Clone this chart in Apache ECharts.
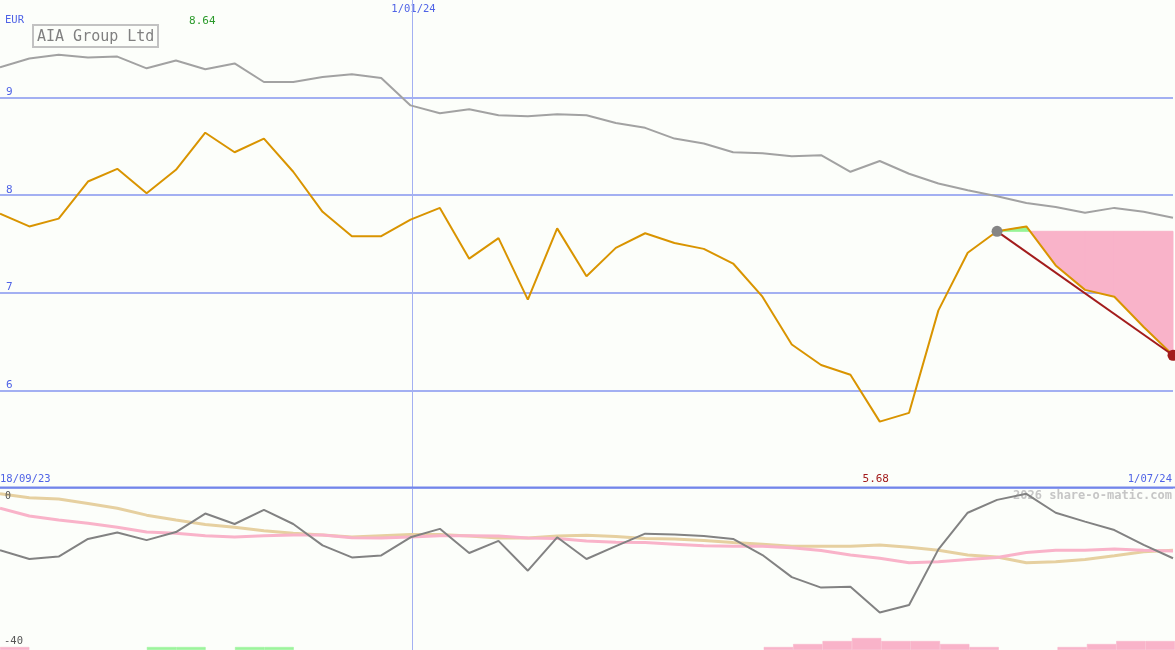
<!DOCTYPE html>
<html>
<head>
<meta charset="utf-8">
<script src="https://cdn.jsdelivr.net/npm/echarts@6/dist/echarts.min.js"></script>
<style>
  html, body { margin: 0; padding: 0; background: #fcfefa; }
  #chart { width: 1175px; height: 650px; }
</style>
</head>
<body>
<div id="chart"></div>
<script>
// weekly closes, 18/09/23 .. 24/06/24
const weeks = ['18/09/23','25/09/23','2/10/23','9/10/23','16/10/23','23/10/23','30/10/23','6/11/23',
  '13/11/23','20/11/23','27/11/23','4/12/23','11/12/23','18/12/23','25/12/23','1/01/24','8/01/24',
  '15/01/24','22/01/24','29/01/24','5/02/24','12/02/24','19/02/24','26/02/24','4/03/24','11/03/24',
  '18/03/24','25/03/24','1/04/24','8/04/24','15/04/24','22/04/24','29/04/24','6/05/24','13/05/24',
  '20/05/24','27/05/24','3/06/24','10/06/24','17/06/24','24/06/24'];

const price = [7.81,7.68,7.76,8.14,8.27,8.02,8.26,8.64,8.44,8.58,8.24,7.83,7.58,7.58,7.75,7.87,7.35,
  7.56,6.93,7.66,7.17,7.46,7.61,7.51,7.45,7.30,6.96,6.47,6.26,6.16,5.68,5.77,6.82,7.41,7.63,7.68,
  7.28,7.03,6.96,6.65,6.36];

const avgLine = [9.31,9.40,9.44,9.41,9.42,9.30,9.38,9.29,9.35,9.16,9.16,9.21,9.24,9.20,8.92,8.84,8.88,
  8.82,8.81,8.83,8.82,8.74,8.69,8.58,8.53,8.44,8.43,8.40,8.41,8.24,8.35,8.22,8.12,8.05,7.99,7.92,
  7.88,7.82,7.87,7.83,7.77];

const oscGrey = [-15.2,-17.4,-16.8,-12.4,-10.8,-12.7,-10.7,-6.1,-8.7,-5.2,-8.7,-14.0,-17.0,-16.5,-12.0,
  -9.9,-15.9,-12.9,-20.3,-12.0,-17.4,-14.2,-11.1,-11.3,-11.7,-12.4,-16.4,-21.9,-24.5,-24.3,-30.7,
  -28.8,-15.0,-5.9,-2.7,-1.2,-5.9,-8.1,-10.2,-13.9,-17.2];
const oscTan = [-1.2,-2.2,-2.5,-3.6,-4.8,-6.5,-7.7,-8.8,-9.5,-10.4,-11.0,-11.4,-11.9,-11.6,-11.3,-11.3,
  -11.7,-12.2,-12.2,-11.7,-11.5,-11.8,-12.3,-12.4,-12.8,-13.3,-13.7,-14.2,-14.2,-14.2,-13.9,-14.5,
  -15.2,-16.4,-16.9,-18.3,-18.1,-17.5,-16.6,-15.6,-15.2];
const oscPink = [-4.8,-6.7,-7.7,-8.5,-9.5,-10.7,-11.0,-11.6,-11.9,-11.6,-11.4,-11.4,-12.1,-12.2,-11.9,
  -11.6,-11.6,-11.7,-12.2,-12.3,-12.9,-13.2,-13.3,-13.7,-14.1,-14.2,-14.2,-14.6,-15.3,-16.4,-17.2,
  -18.3,-18.1,-17.5,-17.0,-15.8,-15.2,-15.2,-14.9,-15.2,-15.4];

// strength bars, one per week-to-week step
const barsPink  = [1,0,0,0,0,0,0,0,0,0,0,0,0,0,0,0,0,0,0,0,0,0,0,0,0,0,1,2,3,4,3,3,2,1,0,0,1,2,3,3];
const barsGreen = [0,0,0,0,0,1,1,0,1,1,0,0,0,0,0,0,0,0,0,0,0,0,0,0,0,0,0,0,0,0,0,0,0,0,0,0,0,0,0,0];

const refIdx = 34;      // grey marker: start of the projection
const endIdx = 40;      // red marker
const yearIdx = 14;     // year boundary line
const steps = weeks.slice(1);

const mono = '"DejaVu Sans Mono", "Liberation Mono", monospace';
const blue = '#4f63e6';
const fillPink = '#f9b3c9';
const fillGreen = '#96f496';
const barGreen = '#9cf49c';

var chart = echarts.init(document.getElementById('chart'));

// area between the price and the level at refIdx, green above, pink below
function renderFill(params, api) {
  const i = api.value(0);
  const L = price[refIdx];
  const a = price[i], b = price[i + 1];
  const pA = api.coord([i, a]), pB = api.coord([i + 1, b]);
  const lA = api.coord([i, L]), lB = api.coord([i + 1, L]);
  const children = [];
  const poly = (pts, up) => children.push({
    type: 'polygon', shape: { points: pts },
    style: { fill: up ? fillGreen : fillPink, stroke: up ? fillGreen : fillPink, lineWidth: 1 }
  });
  if ((a - L) * (b - L) < 0) {
    const t = (a - L) / (a - b);
    const xc = lA[0] + t * (lB[0] - lA[0]);
    poly([lA, pA, [xc, lA[1]]], a > L);
    poly([[xc, lA[1]], pB, lB], b > L);
  } else {
    poly([lA, pA, pB, lB], (a + b) / 2 >= L);
  }
  return { type: 'group', children: children };
}

const fillSegs = [];
for (let i = refIdx; i < endIdx; i++) fillSegs.push([i]);

// empty steps draw nothing
const noZero = (arr) => arr.map(v => (v ? v : null));

let option = {
  backgroundColor: '#fcfefa',
  animation: false,
  grid: [
    { left: 0, top: -1, width: 1173, height: 489 },
    { left: 0, top: 489, width: 1173, height: 161 },
    { left: 0, top: 638, width: 1175, height: 12 }
  ],
  xAxis: [
    { gridIndex: 0, type: 'category', data: weeks, boundaryGap: false,
      axisLine: { show: false }, axisTick: { show: false }, axisLabel: { show: false } },
    { gridIndex: 1, type: 'category', data: weeks, boundaryGap: false,
      axisLine: { show: false }, axisTick: { show: false }, axisLabel: { show: false } },
    { gridIndex: 2, type: 'category', data: steps, boundaryGap: true,
      axisLine: { show: false }, axisTick: { show: false }, axisLabel: { show: false } }
  ],
  yAxis: [
    { gridIndex: 0, type: 'value', min: 5, max: 10, interval: 1,
      axisLine: { show: false }, axisTick: { show: false },
      splitLine: { showMaxLine: false, lineStyle: { color: '#a3b0f2', width: 2 } },
      axisLabel: { inside: true, margin: 6, verticalAlign: 'bottom', align: 'left',
        color: blue, fontFamily: mono, fontSize: 11,
        showMinLabel: false, showMaxLabel: false } },
    { gridIndex: 1, type: 'value', min: -40, max: 0,
      axisLine: { show: false }, axisTick: { show: false },
      splitLine: { show: false }, axisLabel: { show: false } },
    { gridIndex: 2, type: 'value', min: 0, max: 4,
      axisLine: { show: false }, axisTick: { show: false },
      splitLine: { show: false }, axisLabel: { show: false } }
  ],
  series: [
    { type: 'line', xAxisIndex: 0, yAxisIndex: 0, data: avgLine, symbol: 'none', z: 3,
      lineStyle: { color: '#a2a2a2', width: 2 } },
    { type: 'custom', xAxisIndex: 0, yAxisIndex: 0, data: fillSegs, renderItem: renderFill,
      encode: { x: 0 }, z: 2, silent: true },
    { type: 'line', xAxisIndex: 0, yAxisIndex: 0, data: price, symbol: 'none', z: 4,
      lineStyle: { color: '#d99400', width: 2 } },
    { type: 'line', xAxisIndex: 0, yAxisIndex: 0, z: 5, symbolSize: 11,
      data: [
        { value: [refIdx, price[refIdx]], itemStyle: { color: '#858585' } },
        { value: [endIdx, price[endIdx]], itemStyle: { color: '#a31c1c' } }
      ],
      symbol: 'circle', lineStyle: { color: '#a31c1c', width: 2 } },
    { type: 'line', xAxisIndex: 1, yAxisIndex: 1, data: oscTan, symbol: 'none', z: 3,
      lineStyle: { color: '#e6d0a0', width: 3 } },
    { type: 'line', xAxisIndex: 1, yAxisIndex: 1, data: oscPink, symbol: 'none', z: 3,
      lineStyle: { color: fillPink, width: 3 } },
    { type: 'line', xAxisIndex: 1, yAxisIndex: 1, data: oscGrey, symbol: 'none', z: 4,
      lineStyle: { color: '#828282', width: 2 } },
    { type: 'bar', xAxisIndex: 2, yAxisIndex: 2, data: noZero(barsPink), barWidth: '100%', barGap: '-100%',
      itemStyle: { color: fillPink, borderColor: fillPink, borderWidth: 0.6 } },
    { type: 'bar', xAxisIndex: 2, yAxisIndex: 2, data: noZero(barsGreen), barWidth: '100%', barGap: '-100%',
      itemStyle: { color: barGreen, borderColor: barGreen, borderWidth: 0.6 } }
  ]
};

chart.setOption(option);

// texts, placed once the scales exist
const maxIdx = price.indexOf(Math.max(...price));
const minIdx = price.indexOf(Math.min(...price));
const xMax = chart.convertToPixel({ gridIndex: 0 }, [maxIdx, 9])[0];
const xMin = chart.convertToPixel({ gridIndex: 0 }, [minIdx, 9])[0];
const xYear = Math.round(chart.convertToPixel({ gridIndex: 0 }, [yearIdx, 9])[0]) + 1.5;

function txt(x, y, s, color, size, align, weight) {
  return { type: 'text', x: x, y: y, silent: true,
    style: { text: s, fill: color, font: (weight || '') + ' ' + size + 'px ' + mono,
      align: align || 'left', verticalAlign: 'middle' } };
}

chart.setOption({
  graphic: [
    { type: 'line', silent: true, shape: { x1: 0, y1: 487.5, x2: 1175, y2: 487.5 },
      style: { stroke: '#7385ea', lineWidth: 2 }, z: 10 },
    { type: 'line', silent: true, shape: { x1: xYear, y1: 0, x2: xYear, y2: 650 },
      style: { stroke: '#a3b0f2', lineWidth: 1 }, z: 1 },
    { type: 'rect', silent: true, shape: { x: 33, y: 25, width: 125, height: 22 },
      style: { fill: '#fcfefa', stroke: '#c2c2c2', lineWidth: 2 } },
    txt(37, 37, 'AIA Group Ltd', '#808080', 15),
    txt(5, 20, 'EUR', blue, 10.5),
    txt(xMax - 3, 21, price[maxIdx].toFixed(2), '#2a9a2a', 11, 'center'),
    txt(xMin - 4, 479, price[minIdx].toFixed(2), '#a31c1c', 11, 'center'),
    txt(xYear + 1, 9, '1/01/24', blue, 10.5, 'center'),
    txt(0, 479, '18/09/23', blue, 10.5),
    txt(1172, 479, '1/07/24', blue, 10.5, 'right'),
    { type: 'text', x: 5, y: 496, silent: true, z: 20,
      style: { text: '0', fill: '#555555', font: '10px ' + mono, align: 'left', verticalAlign: 'middle' } },
    txt(4, 641, '-40', '#555555', 10.5),
    txt(1172, 496, '2026 share-o-matic.com', '#c6c6c6', 12, 'right', 'bold')
  ]
});
</script>
</body>
</html>
